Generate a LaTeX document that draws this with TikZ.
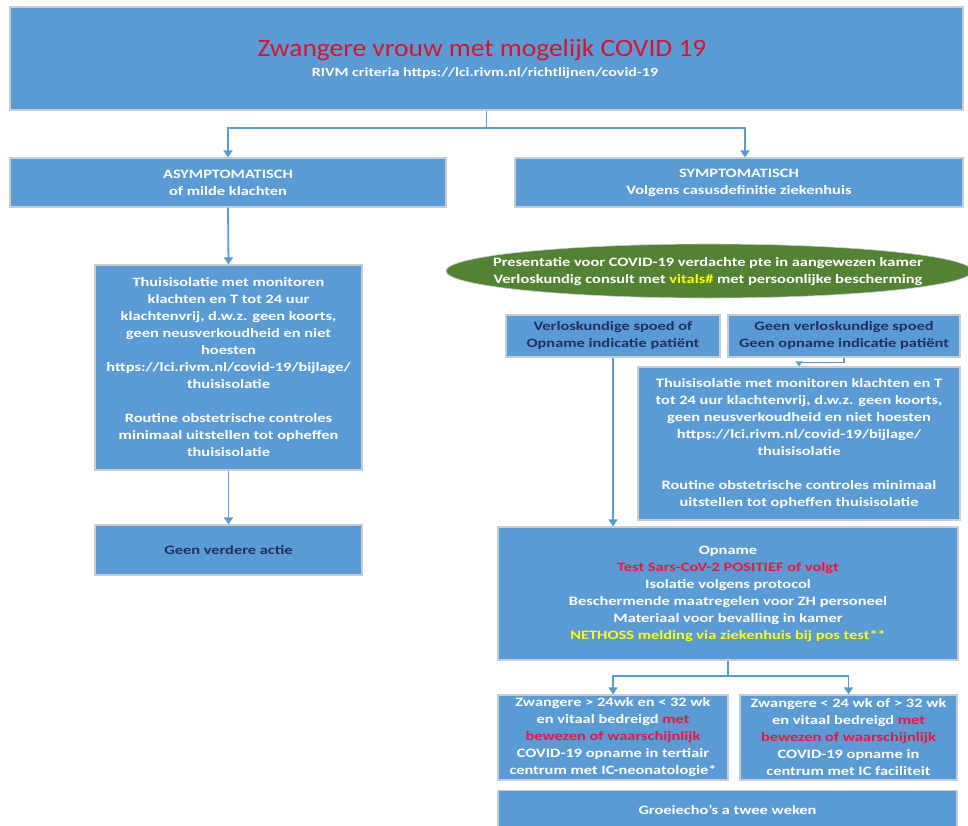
\documentclass[tikz,border=0pt]{standalone}
\usepackage{fontspec}
\setmainfont{Carlito}[FakeStretch=1.28]
\newfontfamily\titlefont{Carlito}[FakeStretch=1.1]
\usetikzlibrary{arrows.meta,shapes.geometric}
\definecolor{boxblue}{HTML}{5B9BD5}
\definecolor{boxedge}{HTML}{C8CDD3}
\definecolor{leafgreen}{HTML}{548235}
\definecolor{titlered}{HTML}{D8142C}
\definecolor{navy}{HTML}{1F2F60}
\definecolor{hiyellow}{HTML}{FFFF00}
\definecolor{txtred}{HTML}{F0143C}
\begin{document}
\begin{tikzpicture}[x=1pt,y=-1pt,
  box/.style={draw=boxedge,line width=1.2pt,fill=boxblue,inner sep=0pt,align=center,
    text=white,font=\fontsize{12.8}{17}\selectfont\bfseries},
  oval/.style={ellipse,fill=leafgreen,draw=boxedge,line width=0.6pt,inner sep=0pt},
  label/.style={align=center,text=white,font=\fontsize{12.8}{17}\selectfont\bfseries},
  conn/.style={draw=boxblue,line width=1.8pt},
  arr/.style={conn,-{Triangle[width=9pt,length=7pt]}}]
\useasboundingbox (0,0) rectangle (968,825);
\fill[white] (0,0) rectangle (968,825);

\node[box,minimum width=953,minimum height=103] (top) at (486.5,58.5) {};
\node[text=titlered,font=\titlefont\fontsize{25}{28}\selectfont] (title) at (482,50) {Zwangere vrouw met mogelijk COVID 19};
\node[text=white,font=\fontsize{12.5}{14}\selectfont\bfseries] (sub) at (485,73) {RIVM criteria https://lci.rivm.nl/richtlijnen/covid-19};

\node[box,minimum width=436,minimum height=49] (asym) at (228,182.5) {ASYMPTOMATISCH\\of milde klachten};
\node[box,minimum width=448,minimum height=49] (sym) at (739,182.5) {SYMPTOMATISCH\\Volgens casusdefinitie ziekenhuis};

\node[box,minimum width=267,minimum height=205] (thuisL) at (228.5,367.5) {Thuisisolatie met monitoren\\klachten en T tot 24 uur\\klachtenvrij, d.w.z. geen koorts,\\geen neusverkoudheid en niet\\hoesten\\https://lci.rivm.nl/covid-19/bijlage/\\thuisisolatie\\[17pt]Routine obstetrische controles\\minimaal uitstellen tot opheffen\\thuisisolatie};

\node[box,minimum width=267,minimum height=50,text=navy] (geen) at (228.5,550) {Geen verdere actie};

\node[oval,minimum width=526,minimum height=54] (pres) at (709,271) {};
\node[label] (prestxt) at (708,272) {Presentatie voor COVID-19 verdachte pte in aangewezen kamer\\Verloskundig consult met \textcolor{hiyellow}{vitals\#} met persoonlijke bescherming};

\node[box,minimum width=214,minimum height=42,text=navy] (vspoed) at (613,336) {Verloskundige spoed of\\Opname indicatie patiënt};
\node[box,minimum width=232,minimum height=42,text=navy] (gvspoed) at (844,336) {Geen verloskundige spoed\\Geen opname indicatie patiënt};

\node[box,minimum width=322,minimum height=153] (thuisR) at (799,443.5) {Thuisisolatie met monitoren klachten en T\\tot 24 uur klachtenvrij, d.w.z. geen koorts,\\geen neusverkoudheid en niet hoesten\\https://lci.rivm.nl/covid-19/bijlage/\\thuisisolatie\\[17pt]Routine obstetrische controles minimaal\\uitstellen tot opheffen thuisisolatie};

\node[box,minimum width=460,minimum height=133] (opname) at (728,593.5) {Opname\\\textcolor{txtred}{Test Sars-CoV-2 POSITIEF of volgt}\\Isolatie volgens protocol\\Beschermende maatregelen voor ZH personeel\\Materiaal voor bevalling in kamer\\\textcolor{hiyellow}{NETHOSS melding via ziekenhuis bij pos test**}};

\node[box,minimum width=230,minimum height=85] (z1) at (613,737.5) {Zwangere > 24wk en < 32 wk\\en vitaal bedreigd \textcolor{txtred}{met}\\\textcolor{txtred}{bewezen of waarschijnlijk}\\COVID-19 opname in tertiair\\centrum met IC-neonatologie*};
\node[box,minimum width=217,minimum height=85] (z2) at (848.5,737.5) {Zwangere < 24 wk of > 32 wk\\en vitaal bedreigd \textcolor{txtred}{met}\\\textcolor{txtred}{bewezen of waarschijnlijk}\\COVID-19 opname in\\centrum met IC faciliteit};

\node[box,minimum width=459,minimum height=42,anchor=north] (groei) at (727.5,790) {};
\node[label] (groeitxt) at (727.5,810) {Groeiecho's a twee weken};

% connectors
\draw[conn] (top.south) -- ++(0,17) coordinate (split1);
\draw[arr] (split1) -| (asym.north);
\draw[arr] (split1) -| ([xshift=6pt]sym.north);
\draw[arr] (asym.south) -- (thuisL.north);
\draw[arr] (thuisL.south) -- (geen.north);
\draw[arr] (vspoed.south) -- (vspoed.south |- opname.north);
\draw[conn,line width=1.2pt,-{Triangle[width=7pt,length=5pt]}] (gvspoed.south) -- ++(0,5) -| (thuisR.north);
\draw[conn] (opname.south) -- ++(0,15) coordinate (split2);
\draw[arr] (split2) -| (z1.north);
\draw[arr] (split2) -| (z2.north);
\end{tikzpicture}
\end{document}
